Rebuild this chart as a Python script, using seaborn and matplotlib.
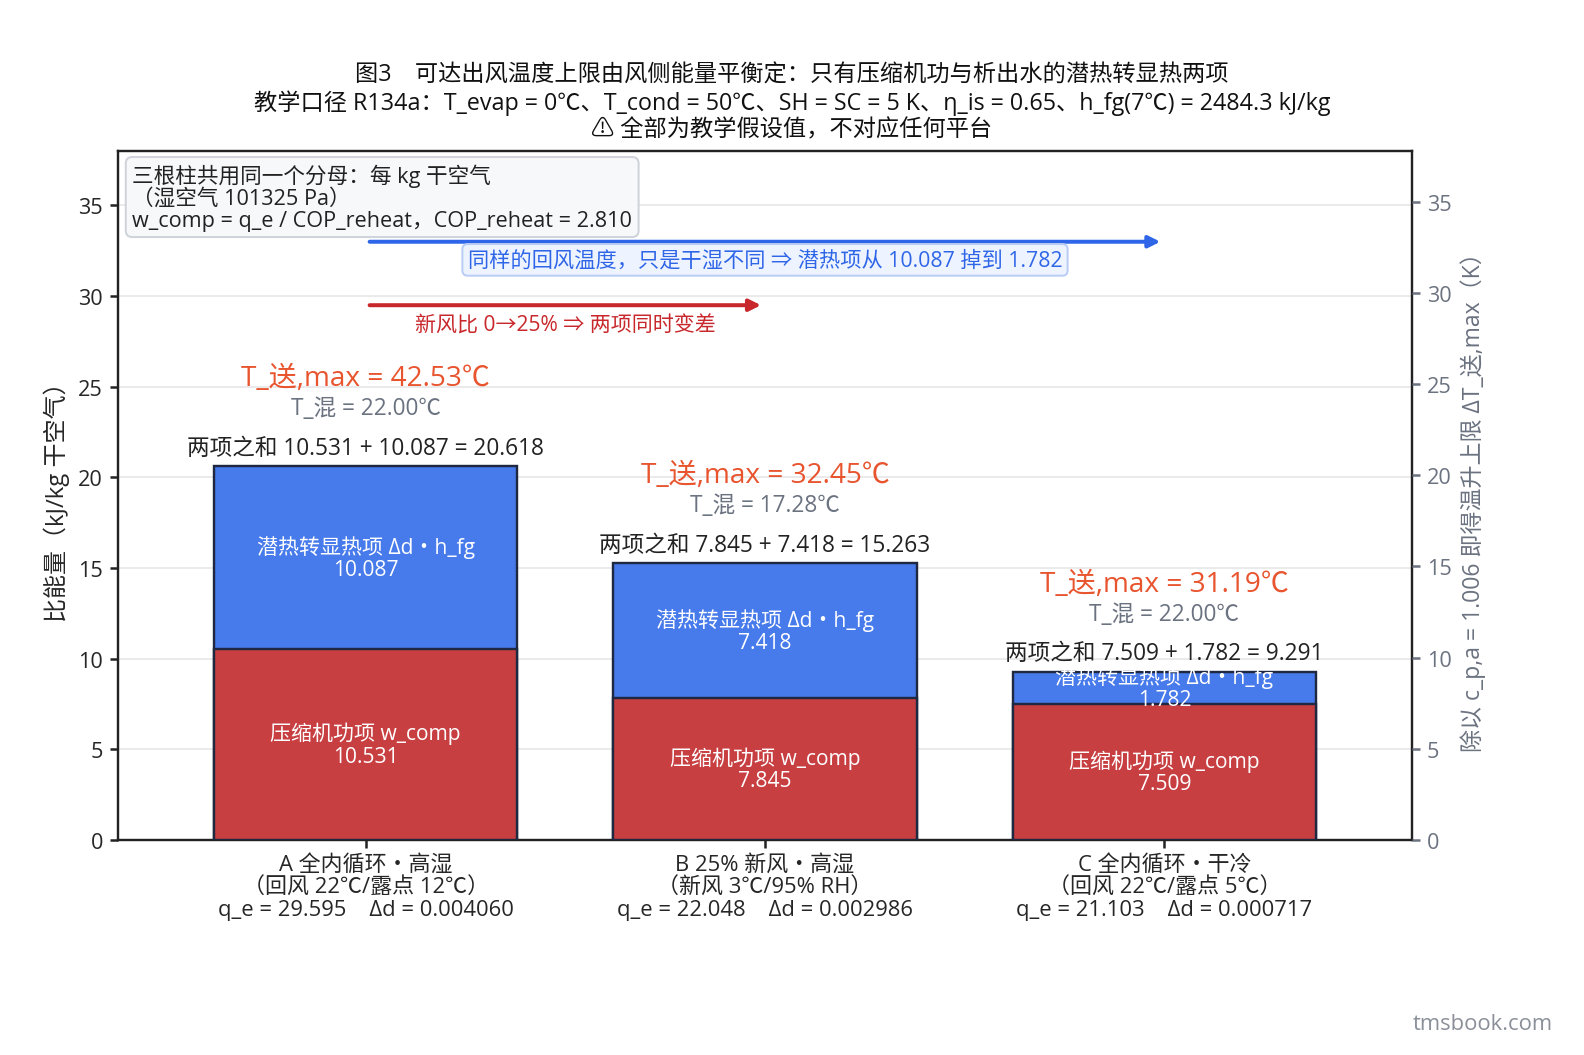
import matplotlib
matplotlib.use('Agg')
import matplotlib.pyplot as plt
import seaborn as sns
import pandas as pd

cases = ['A 全内循环・高湿\n（回风 22℃/露点 12℃）\nq_e = 29.595    Δd = 0.004060',
         'B 25% 新风・高湿\n（新风 3℃/95% RH）\nq_e = 22.048    Δd = 0.002986',
         'C 全内循环・干冷\n（回风 22℃/露点 5℃）\nq_e = 21.103    Δd = 0.000717']
w_comp = [10.531, 7.845, 7.509]
latent = [10.087, 7.418, 1.782]
t_mix = [22.00, 17.28, 22.00]
t_sup_max = [42.53, 32.45, 31.19]
cp_a = 1.006

RED, BLUE, EDGE = '#c83f42', '#477aea', '#1e2840'
ORANGE, GRAY = '#e8542e', '#6b7280'

sns.set_theme(style='white')
plt.rcParams['font.family'] = ['Open Sans', 'Noto Sans CJK SC', 'DejaVu Sans']
plt.rcParams['axes.unicode_minus'] = False

total = [a + b for a, b in zip(w_comp, latent)]
df = pd.DataFrame({'case': cases, 'w_comp': w_comp, 'latent': latent, 'total': total})

fig, ax = plt.subplots(figsize=(11, 7.333), dpi=144)
fig.subplots_adjust(left=0.0745, right=0.8914, top=0.856, bottom=0.2036)

sns.barplot(data=df, x='case', y='total', color=BLUE, saturation=1, width=0.76,
            edgecolor=EDGE, linewidth=1.2, ax=ax, zorder=2)
sns.barplot(data=df, x='case', y='w_comp', color=RED, saturation=1, width=0.76,
            edgecolor=EDGE, linewidth=1.2, ax=ax, zorder=3)

ax.set_xlim(-0.62, 2.62)
ax.set_ylim(0, 38)
ax.set_yticks(range(0, 40, 5))
ax.set_xlabel('')
ax.set_ylabel('比能量（kJ/kg 干空气）', fontsize=12)
ax.tick_params(axis='y', labelsize=10.8, length=4, direction='out', color='#222222')
ax.tick_params(axis='x', labelsize=11, length=4, pad=3, direction='out', color='#222222')
ax.yaxis.grid(True, color='#e6e6e6', linewidth=0.8, zorder=0)
ax.set_axisbelow(True)
for s in ax.spines.values():
    s.set_color('#222222')
    s.set_linewidth(1.2)
ax.tick_params(left=True, bottom=True)
for lab in ax.get_xticklabels():
    lab.set_linespacing(1.1)

for i in range(3):
    wc, lt, tt = w_comp[i], latent[i], total[i]
    ax.text(i, wc / 2, f'压缩机功项 w_comp\n{wc:.3f}', ha='center', va='center',
            color='white', fontsize=10.5, linespacing=1.1, zorder=5)
    ax.text(i, wc + lt / 2, f'潜热转显热项 Δd・h_fg\n{lt:.3f}', ha='center', va='center',
            color='white', fontsize=10.5, linespacing=1.1, zorder=5)
    ax.text(i, tt + 0.35, f'两项之和 {wc:.3f} + {lt:.3f} = {tt:.3f}', ha='center',
            va='bottom', color='#222222', fontsize=11.3, zorder=5)
    ax.text(i, tt + 3.2, f'T_混 = {t_mix[i]:.2f}℃', ha='center', va='center',
            color=GRAY, fontsize=11.3, zorder=5)
    ax.text(i, tt + 4.85, f'T_送,max = {t_sup_max[i]:.2f}℃', ha='center', va='center',
            color=ORANGE, fontsize=14, zorder=5)

ax.annotate('', xy=(2, 33), xytext=(0, 33),
            arrowprops=dict(arrowstyle='-|>', color='#2f66e8', lw=2, mutation_scale=12), zorder=4)
ax.text(1, 32.0, '同样的回风温度，只是干湿不同 ⇒ 潜热项从 10.087 掉到 1.782', ha='center',
        va='center', color='#2f66e8', fontsize=10.6, zorder=6,
        bbox=dict(boxstyle='round,pad=0.25', facecolor='#eef4ff', edgecolor='#b9cdf5', linewidth=1))
ax.annotate('', xy=(1, 29.5), xytext=(0, 29.5),
            arrowprops=dict(arrowstyle='-|>', color='#c8282c', lw=2, mutation_scale=12), zorder=4)
ax.text(0.5, 28.4, '新风比 0→25% ⇒ 两项同时变差', ha='center', va='center',
        color='#c8282c', fontsize=10.5, zorder=6)

ax.text(0.011, 0.982, '三根柱共用同一个分母：每 kg 干空气\n（湿空气 101325 Pa）\nw_comp = q_e / COP_reheat，COP_reheat = 2.810',
        transform=ax.transAxes, ha='left', va='top', fontsize=10.8, color='#222222',
        linespacing=1.05, zorder=7,
        bbox=dict(boxstyle='round,pad=0.3', facecolor='#f7f8fa', edgecolor='#cfd3da', linewidth=1))

ax2 = ax.twinx()
ax2.set_ylim(0, 38 / cp_a)
ax2.set_yticks(range(0, 40, 5))
ax2.tick_params(axis='y', labelsize=10.8, colors=GRAY, length=4)
ax2.set_ylabel('除以 c_p,a = 1.006 即得温升上限 ΔT_送,max（K）', color=GRAY, fontsize=11.5)
for s in ax2.spines.values():
    s.set_visible(False)

fig.suptitle('图3　可达出风温度上限由风侧能量平衡定：只有压缩机功与析出水的潜热转显热两项\n'
             '教学口径 R134a：T_evap = 0℃、T_cond = 50℃、SH = SC = 5 K、η_is = 0.65、h_fg(7℃) = 2484.3 kJ/kg\n'
             '⚠ 全部为教学假设值，不对应任何平台',
             y=0.94, fontsize=11.6, linespacing=1.13, color='#111111')

fig.text(0.98, 0.03, 'tmsbook.com', ha='right', va='center', fontsize=11, color='#8a8f98')

plt.savefig('out.png', dpi=144)
